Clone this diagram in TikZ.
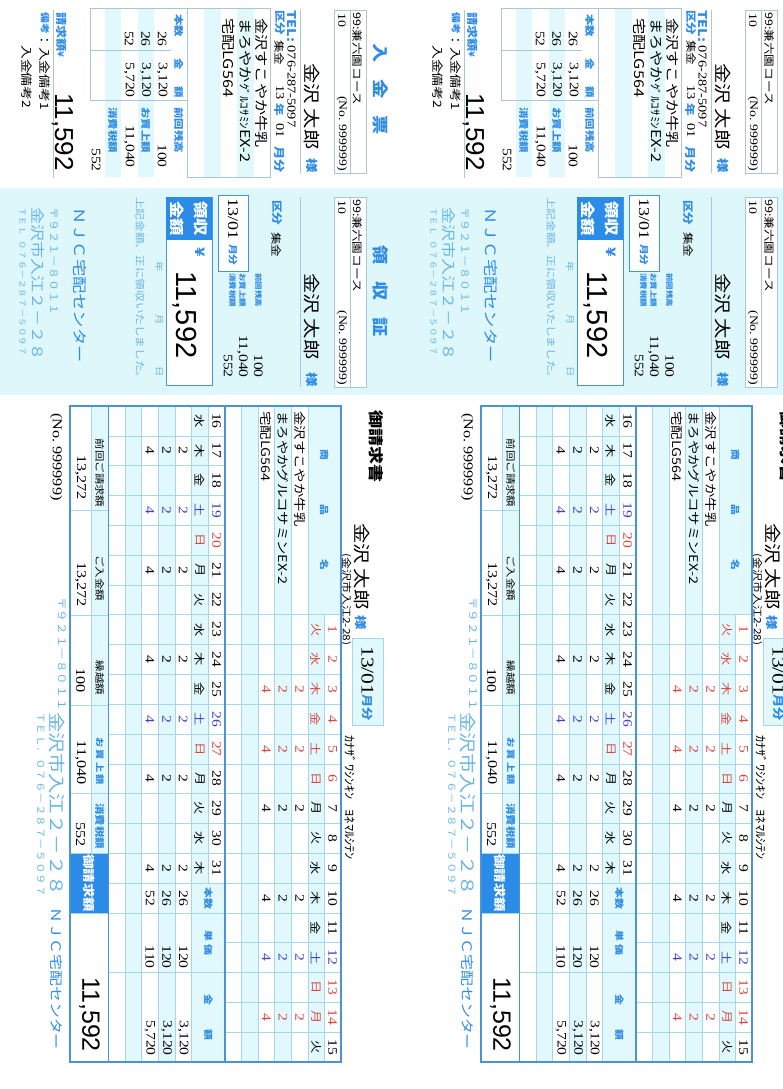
\documentclass[tikz,border=0pt]{standalone}
\usepackage{fontspec}
\setmainfont{Liberation Serif}
\newfontfamily\cjk{Noto Sans CJK JP}
\newfontfamily\bigsans{Liberation Sans}
\newcommand{\fsz}[1]{\fontsize{#1}{#1}\selectfont}
\newcommand{\colw}{29.818}
\definecolor{bandcyan}{HTML}{DDF7FB}
\definecolor{stripe}{HTML}{E1F9FC}
\definecolor{gridline}{HTML}{A6D6EC}
\definecolor{frameblue}{HTML}{4A92DA}
\definecolor{stubline}{HTML}{A9C7DA}
\definecolor{labelblue}{HTML}{2E8BE6}
\definecolor{paleblue}{HTML}{69B6E6}
\definecolor{dayred}{HTML}{DC4440}
\definecolor{daysat}{HTML}{4040C8}
\definecolor{payblue}{HTML}{2B8CE8}
\tikzset{
  vt/.style={yscale=1.2, rotate=-90, inner sep=0pt},
  jp/.style={vt, font=\cjk\fsz{#1}},
  jpb/.style={vt, font=\cjk\bfseries\fsz{#1}, text=labelblue},
  jpk/.style={vt, font=\cjk\bfseries\fsz{#1}},
  dig/.style={vt, font=\fsz{#1}},
  bignum/.style={rotate=-90, inner sep=0pt, font=\bigsans\fsz{#1}},
  gridln/.style={draw=gridline, line width=0.5pt},
  frameln/.style={draw=frameblue, line width=1.1pt},
  stubln/.style={draw=stubline, line width=0.6pt},
}
\begin{document}
\begin{tikzpicture}[x=1pt, y=-1pt]
\useasboundingbox (0,0) rectangle (783,1089);
\clip (0,0) rectangle (783,1089);
\fill[bandcyan] (0,188) rectangle (783,395);
\foreach \dx in {0,411}{
\begin{scope}[shift={(\dx,0)}]
\fill[stripe] (237,8) rectangle (253.5,177);
\fill[stripe] (204,8) rectangle (220.5,177);
\fill[stripe] (137.5,8) rectangle (154,177);
\fill[stripe] (104.5,8) rectangle (121,177);
\draw[stubln] (187,8) rectangle (270,177);
\draw[stubln] (90,8) rectangle (187,100);
\draw[stubln] (90,50) -- (170.5,50);
\draw[stubln] (334,10) rectangle (366,173);
\draw[stubln] (350,10) -- (350,173);
\draw[stubln] (300,10) -- (300,173);
\draw[stubln] (53,10) -- (53,178);
\node[jpb=16] (nk-title) at (381,89) {入\hspace{14pt}金\hspace{14pt}票};
\node[jp=10.5, anchor=west] (nk-course) at (358,12) {99:兼六園コース};
\node[dig=11.5, anchor=west] (nk-no) at (342,13) {10};
\node[dig=11.5, anchor=east] (nk-id) at (342,171) {(No.\ 999999)};
\node[jp=17, anchor=west] (nk-name) at (312,63) {金沢\hspace{4pt}太郎};
\node[jpb=12, anchor=east] (nk-sama) at (312,173) {様};
\node[dig=12, anchor=west] (nk-tel) at (292,10) {\textcolor{labelblue}{\cjk\bfseries TEL:}\ 076-287-5097};
\node[jpb=10.5, anchor=west] (nk-kbn) at (280,10) {区分};
\node[jp=10.5, anchor=west] (nk-shu) at (280,40) {集金};
\node[dig=12, anchor=west] (nk-yy) at (280,85) {13};
\node[jpb=10.5, anchor=west] (nk-nen) at (280,103) {年};
\node[dig=12, anchor=west] (nk-mm) at (280,123) {01};
\node[jpb=11, anchor=east] (nk-getsu) at (280,173) {月分};
\node[jp=13.5, anchor=west] (nk-it1) at (261.7,18) {金沢すこやか牛乳};
\node[jp=13.5, anchor=west] (nk-it2) at (245.2,18) {まろやか{\fsz{11}ｸﾞﾙｺｻﾐﾝ}EX-2};
\node[jp=13.5, anchor=west] (nk-it3) at (228.7,18) {宅配LG564};
\node[jpb=9.5, anchor=west] (nk-h1) at (178.7,14) {本数};
\node[jpb=9.5, anchor=west] (nk-h2) at (178.7,58) {金\hspace{14pt}額};
\node[jpb=9.5, anchor=west] (nk-h3) at (178.7,107) {前回残高};
\node[dig=13, anchor=east] (nk-q1) at (162.2,47) {26};
\node[dig=13, anchor=east] (nk-a1) at (162.2,98) {3,120};
\node[dig=13, anchor=east] (nk-prev) at (162.2,168) {100};
\node[dig=13, anchor=east] (nk-q2) at (145.7,47) {26};
\node[dig=13, anchor=east] (nk-a2) at (145.7,98) {3,120};
\node[jpb=9.5, anchor=west] (nk-buy) at (145.7,107) {お買上額};
\node[dig=13, anchor=east] (nk-q3) at (129.2,47) {52};
\node[dig=13, anchor=east] (nk-a3) at (129.2,98) {5,720};
\node[dig=13, anchor=east] (nk-buyv) at (129.2,168) {11,040};
\node[jpb=9.5, anchor=west] (nk-tax) at (112.7,107) {消費税額};
\node[dig=13, anchor=east] (nk-taxv) at (96.2,172) {552};
\node[jpb=11, anchor=west] (nk-seikyu) at (62,12) {請求額{\fsz{8}¥}};
\node[bignum=26, anchor=east] (nk-total) at (62.5,171) {11,592};
\node[jpb=9, anchor=west] (nk-biko) at (45,12) {備考};
\node[jp=11.5, anchor=west] (nk-biko1) at (45,33) {：入金備考1};
\node[jp=11.5, anchor=west] (nk-biko2) at (27,45) {入金備考2};
\filldraw[stubln, fill=white] (334,197) rectangle (366,387);
\draw[stubln] (350,197) -- (350,387);
\draw[stubln] (300,197) -- (300,387);
\node[jpb=16] (rs-title) at (381,291) {領\hspace{14pt}収\hspace{14pt}証};
\node[jp=10.5, anchor=west] (rs-course) at (358,199) {99:兼六園コース};
\node[dig=11.5, anchor=west] (rs-no) at (342,200) {10};
\node[dig=11.5, anchor=east] (rs-id) at (342,385) {(No.\ 999999)};
\node[jp=17, anchor=west] (rs-name) at (312,273) {金沢\hspace{4pt}太郎};
\node[jpb=12, anchor=east] (rs-sama) at (312,387) {様};
\node[jpb=10.5, anchor=west] (rs-kbn) at (277,200) {区分};
\node[jp=10.5, anchor=west] (rs-shu) at (277,232) {集金};
\node[jpb=7, anchor=west] (rs-l1) at (258.5,273) {前回残高};
\node[jpb=7, anchor=west] (rs-l2) at (242.5,273) {お買上額};
\node[jpb=7, anchor=west] (rs-l3) at (232.5,273) {消費税額};
\node[dig=13, anchor=east] (rs-v1) at (258.5,378) {100};
\node[dig=13, anchor=east] (rs-v2) at (242.5,378) {11,040};
\node[dig=13, anchor=east] (rs-v3) at (228,378) {552};
\filldraw[draw=frameblue, fill=white, line width=1pt] (218,195) rectangle (248,271);
\node[dig=15, anchor=west] (rs-mon) at (233,198) {13/01};
\node[jpb=9, anchor=east] (rs-getsu) at (233,266) {月分};
\filldraw[draw=frameblue, fill=white, line width=1pt] (166,197) rectangle (212,385);
\fill[payblue] (166,197) rectangle (212,240);
\node[jpk=14.5, text=white] (rs-ryo1) at (200.5,218.5) {領収};
\node[jpk=14.5, text=white] (rs-ryo2) at (177.5,218.5) {金額};
\node[jpb=13] (rs-yen) at (200,252) {¥};
\node[bignum=29] (rs-total) at (185,315) {11,592};
\node[jp=8.5, text=paleblue] (rs-y) at (159,267) {年};
\node[jp=8.5, text=paleblue] (rs-m) at (159,320) {月};
\node[jp=8.5, text=paleblue] (rs-d) at (159,372) {日};
\node[jp=9.7, text=paleblue, anchor=west] (rs-note) at (140,197) {上記金額、正に領収いたしました。};
\node[jp=14.4, text=labelblue, anchor=west] (rs-njc) at (80,207) {ＮＪＣ宅配センター};
\node[jp=10, text=paleblue, anchor=west] (rs-zip) at (54,207) {〒９２１－８０１１};
\node[jp=14.2, text=paleblue, anchor=west] (rs-addr) at (37.5,207) {金沢市入江２－２８};
\node[jp=8, text=paleblue, anchor=west] (rs-tel) at (22.5,207) {ＴＥＬ\hspace{4pt}０７６－２８７－５０９７};
\node[jpk=15, anchor=west] (inv-title) at (376.5,410) {御請求書};
\node[jp=17, anchor=west] (inv-name) at (361.5,523) {金沢\hspace{4pt}太郎};
\node[jpb=12, anchor=east] (inv-sama) at (361.5,630) {様};
\node[jp=10, anchor=west] (inv-addr2) at (346,553) {(金沢市入江2-28)};
\filldraw[draw=gridline, fill=stripe, line width=1pt] (352,638) rectangle (383,725);
\node[dig=18, anchor=west] (inv-mon) at (367.5,646) {13/01};
\node[jpb=11, anchor=east] (inv-getsu) at (367.5,721) {月分};
\node[jp=12, anchor=west] (inv-bank) at (350,735) {ｶﾅｻﾞﾜｼﾝｷﾝ\hspace{8pt}ﾖﾈﾏﾙｼﾃﾝ};
\fill[stripe] (307.86,406) rectangle (341,614.73);
\fill[stripe] (307.86,614.73) rectangle (324.43,1062);
\fill[stripe] (274.71,406) rectangle (291.29,1062);
\fill[stripe] (241.57,406) rectangle (258.14,1062);
\fill[stripe] (191.67,406) rectangle (208.33,883.1);
\fill[stripe] (191.67,883.1) rectangle (225,1062);
\fill[stripe] (158.33,406) rectangle (175,1062);
\fill[stripe] (125,406) rectangle (141.67,1062);
\fill[stripe] (91,406) rectangle (108.33,853);
\fill[payblue] (70,853) rectangle (108.33,913);
\foreach \r in {307.86,291.29,274.71,258.14,241.57,191.67,175,158.33,141.67,125}
  \draw[gridln] (\r,406) -- (\r,1062);
\draw[gridln] (324.43,614.73) -- (324.43,1062);
\draw[gridln] (208.33,406) -- (208.33,883.1);
\foreach \k in {7,...,21}
  \draw[gridln] (225,{406+\k*\colw}) -- (341,{406+\k*\colw});
\foreach \k in {1,...,17}
  \draw[gridln] (108.33,{406+\k*\colw}) -- (225,{406+\k*\colw});
\draw[gridln] (108.33,{406+19*\colw}) -- (225,{406+19*\colw});
\draw[gridln] (91,406) -- (91,853);
\foreach \c in {510,615,705,793,853,913}
  \draw[gridln] (70,\c) -- (108.33,\c);
\draw[frameln] (70,406) rectangle (341,1062);
\draw[frameln] (225,406) -- (225,1062);
\draw[frameln] (108.33,406) -- (108.33,1062);
\node[jpb=9] (inv-hd) at (324.4,510) {商\hspace{37pt}品\hspace{37pt}名};
\node[jp=12, anchor=west] (inv-it1) at (299.6,411) {金沢すこやか牛乳};
\node[jp=12, anchor=west] (inv-it2) at (283,411) {まろやかグルコサミンEX-2};
\node[jp=12, anchor=west] (inv-it3) at (266.4,411) {宅配LG564};
\foreach \d/\w/\cl [count=\i] in {1/火/dayred,2/水/dayred,3/木/dayred,4/金/dayred,5/土/dayred,6/日/dayred,7/月/black,8/火/black,9/水/black,10/木/black,11/金/black,12/土/daysat,13/日/dayred,14/月/dayred,15/火/black}{
  \node[dig=13, text=\cl] (day\d) at (332.7,{406+(\i+6.5)*\colw}) {\d};
  \node[jp=11, text=\cl] (wd\d) at (316.1,{406+(\i+6.5)*\colw}) {\w};
}
\foreach \d/\w/\cl [count=\i] in {16/水/black,17/木/black,18/金/black,19/土/daysat,20/日/dayred,21/月/black,22/火/black,23/水/black,24/木/black,25/金/black,26/土/daysat,27/日/dayred,28/月/black,29/火/black,30/水/black,31/木/black}{
  \node[dig=13, text=\cl] (day\d) at (216.7,{406+(\i-0.5)*\colw}) {\d};
  \node[jp=11, text=\cl] (wd\d) at (200,{406+(\i-0.5)*\colw}) {\w};
}
\foreach \k/\cl in {3/dayred,5/dayred,7/black,10/black,12/daysat,14/dayred}{
  \node[dig=13, text=\cl] (ta\k) at (299.6,{406+(\k+6.5)*\colw}) {2};
  \node[dig=13, text=\cl] (tb\k) at (283,{406+(\k+6.5)*\colw}) {2};
  \node[dig=13, text=\cl] (tc\k) at (266.4,{406+(\k+6.5)*\colw}) {4};
}
\foreach \k/\cl in {17/black,19/daysat,21/black,24/black,26/daysat,28/black,31/black}{
  \node[dig=13, text=\cl] (ba\k) at (183.3,{406+(\k-15.5)*\colw}) {2};
  \node[dig=13, text=\cl] (bb\k) at (166.7,{406+(\k-15.5)*\colw}) {2};
  \node[dig=13, text=\cl] (bc\k) at (150,{406+(\k-15.5)*\colw}) {4};
}
\node[jpb=9] (inv-hq) at (208.3,898) {本数};
\node[jpb=9] (inv-hp) at (208.3,942.8) {単\hspace{3pt}価};
\node[jpb=9] (inv-ha) at (208.3,1017.3) {金\hspace{20pt}額};
\node[dig=13] (qty1) at (183.3,898) {26};
\node[dig=13] (qty2) at (166.7,898) {26};
\node[dig=13] (qty3) at (150,898) {52};
\node[dig=13, anchor=east] (prc1) at (183.3,969) {120};
\node[dig=13, anchor=east] (prc2) at (166.7,969) {120};
\node[dig=13, anchor=east] (prc3) at (150,969) {110};
\node[dig=13, anchor=east] (amt1) at (183.3,1056) {3,120};
\node[dig=13, anchor=east] (amt2) at (166.7,1056) {3,120};
\node[dig=13, anchor=east] (amt3) at (150,1056) {5,720};
\node[jp=9.5] (f-prev) at (99.7,473) {前回ご請求額};
\node[jp=9.5] (f-paid) at (99.7,578) {ご入金額};
\node[jp=9.5] (f-carry) at (99.7,678) {繰越額};
\node[jpb=8.5] (f-buy) at (99.7,761) {お\hspace{2pt}買\hspace{2pt}上\hspace{2pt}額};
\node[jpb=9.5] (f-tax) at (99.7,826) {消費税額};
\node[jpk=12, text=white] (f-bill) at (89.2,883) {御請求額};
\node[dig=13.5, anchor=east] (f-prevv) at (80.5,500) {13,272};
\node[dig=13.5, anchor=east] (f-paidv) at (80.5,607) {13,272};
\node[dig=13.5, anchor=east] (f-carryv) at (80.5,693) {100};
\node[dig=13.5, anchor=east] (f-buyv) at (80.5,785) {11,040};
\node[dig=13.5, anchor=east] (f-taxv) at (80.5,847) {552};
\node[bignum=25, anchor=east] (f-total) at (89.5,1052) {11,592};
\node[dig=13.5, anchor=west] (inv-no) at (56,413) {(No.\ 999999)};
\node[jp=10.5, text=paleblue, anchor=west] (inv-zip) at (62,597) {〒９２１－８０１１};
\node[jp=17, text=paleblue, anchor=west] (inv-addr) at (57,712) {金沢市入江２－２８};
\node[jp=13.2, text=labelblue, anchor=west] (inv-njc) at (57,907) {ＮＪＣ宅配センター};
\node[jp=9.6, text=paleblue, anchor=west] (inv-tel) at (41,712) {ＴＥＬ．０７６－２８７－５０９７};
\end{scope}
}
\end{tikzpicture}
\end{document}
